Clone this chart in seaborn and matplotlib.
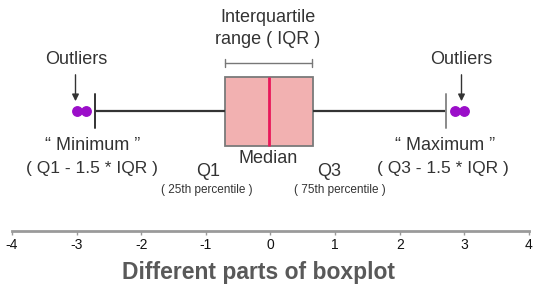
import matplotlib
matplotlib.use("Agg")
import matplotlib.pyplot as plt
import seaborn as sns
import numpy as np

# ---- data ----
values = [-3.0, -2.85, -2.72, -0.70, -0.40, -0.20, -0.03, 0.20, 0.40, 0.65, 2.72, 2.85, 3.0]
tick_values = [-4, -3, -2, -1, 0, 1, 2, 3, 4]
tick_labels = ["-4", "-3", "-2", "-1", "0", "1", "2", "3", "4"]
title = "Different parts of boxplot"

sns.set_style("white")
plt.rcParams['font.family'] = ['Liberation Sans', 'DejaVu Sans']

W, H = 544, 289
fig = plt.figure(figsize=(W / 100, H / 100), dpi=100)
axis_y = 231
ax = fig.add_axes([0, (H - axis_y) / H, 1, axis_y / H])

sns.boxplot(x=values, ax=ax, orient='h', width=0.8, color='#f2b1b1', saturation=1,
            whis=1.55, linewidth=1.5,
            boxprops=dict(edgecolor='#7a7a7a', linewidth=1.3),
            medianprops=dict(color='#e8185a', linewidth=2.0),
            whiskerprops=dict(color='#333333', linewidth=1.6),
            capprops=dict(color='#333333', linewidth=1.4),
            flierprops=dict(marker='o', markerfacecolor='#9b0ec9', markeredgecolor='#9b0ec9',
                            markersize=6.8))

# right cap lighter gray
for ln in ax.lines:
    xd = np.asarray(ln.get_xdata(), dtype=float)
    if len(xd) == 2 and xd[0] == xd[1] and xd[0] > 1:
        ln.set_color('#8a8a8a')

px = 64.6
ax.set_xlim(-4 - 12 / px, 4 + 15 / px)
unit = 69 / 0.8
ax.set_ylim((axis_y - 111) / unit, -111 / unit)
ax.set_yticks([])
for s in ['top', 'left', 'right']:
    ax.spines[s].set_visible(False)
ax.spines['bottom'].set_color('#9a9a9a')
ax.spines['bottom'].set_linewidth(2.0)
ax.spines['bottom'].set_bounds(-4, 4)
ax.set_xticks(tick_values)
ax.set_xticklabels(tick_labels)
ax.tick_params(axis='x', direction='out', length=3, width=1, color='#9a9a9a',
               labelsize=10, labelcolor='#111111', pad=2, bottom=True)
ax.set_xlabel("")
ax.patch.set_alpha(0)


def ft(x, y, s, size=13, **kw):
    fig.text(x / W, 1 - y / H, s, ha='center', va='center', fontsize=size,
             color=kw.pop('color', '#333333'), **kw)


ft(268, 17, "Interquartile")
ft(268, 40, "range ( IQR )")
ft(76, 60, "Outliers")
ft(461, 60, "Outliers")
ft(93, 145, "\u201c Minimum \u201d")
ft(92, 169, "( Q1 - 1.5 * IQR )", size=12.5)
ft(208, 172, "Q1")
ft(207, 190, "( 25th percentile )", size=8.5)
ft(268, 158, "Median")
ft(329, 172, "Q3")
ft(340, 190, "( 75th percentile )", size=8.5)
ft(445, 145, "\u201c Maximum \u201d")
ft(443, 168, "( Q3 - 1.5 * IQR )", size=12.5)
ft(258, 272, title, size=16.5, fontweight='bold', color='#595959')

# IQR bracket
lc = '#777777'
fig.add_artist(plt.Line2D([225 / W, 312 / W], [1 - 63 / H, 1 - 63 / H], color=lc, lw=1))
for xx in (225, 312):
    fig.add_artist(plt.Line2D([xx / W, xx / W], [1 - 59 / H, 1 - 67 / H], color=lc, lw=1))

# arrows
for xx in (75.5, 461.5):
    ax.annotate("", xy=(xx / W, 1 - 104 / H), xytext=(xx / W, 1 - 72 / H),
                xycoords='figure fraction', textcoords='figure fraction',
                arrowprops=dict(arrowstyle='-|>', color='#333333', lw=1, mutation_scale=10))

fig.savefig("out.png", dpi=100)
